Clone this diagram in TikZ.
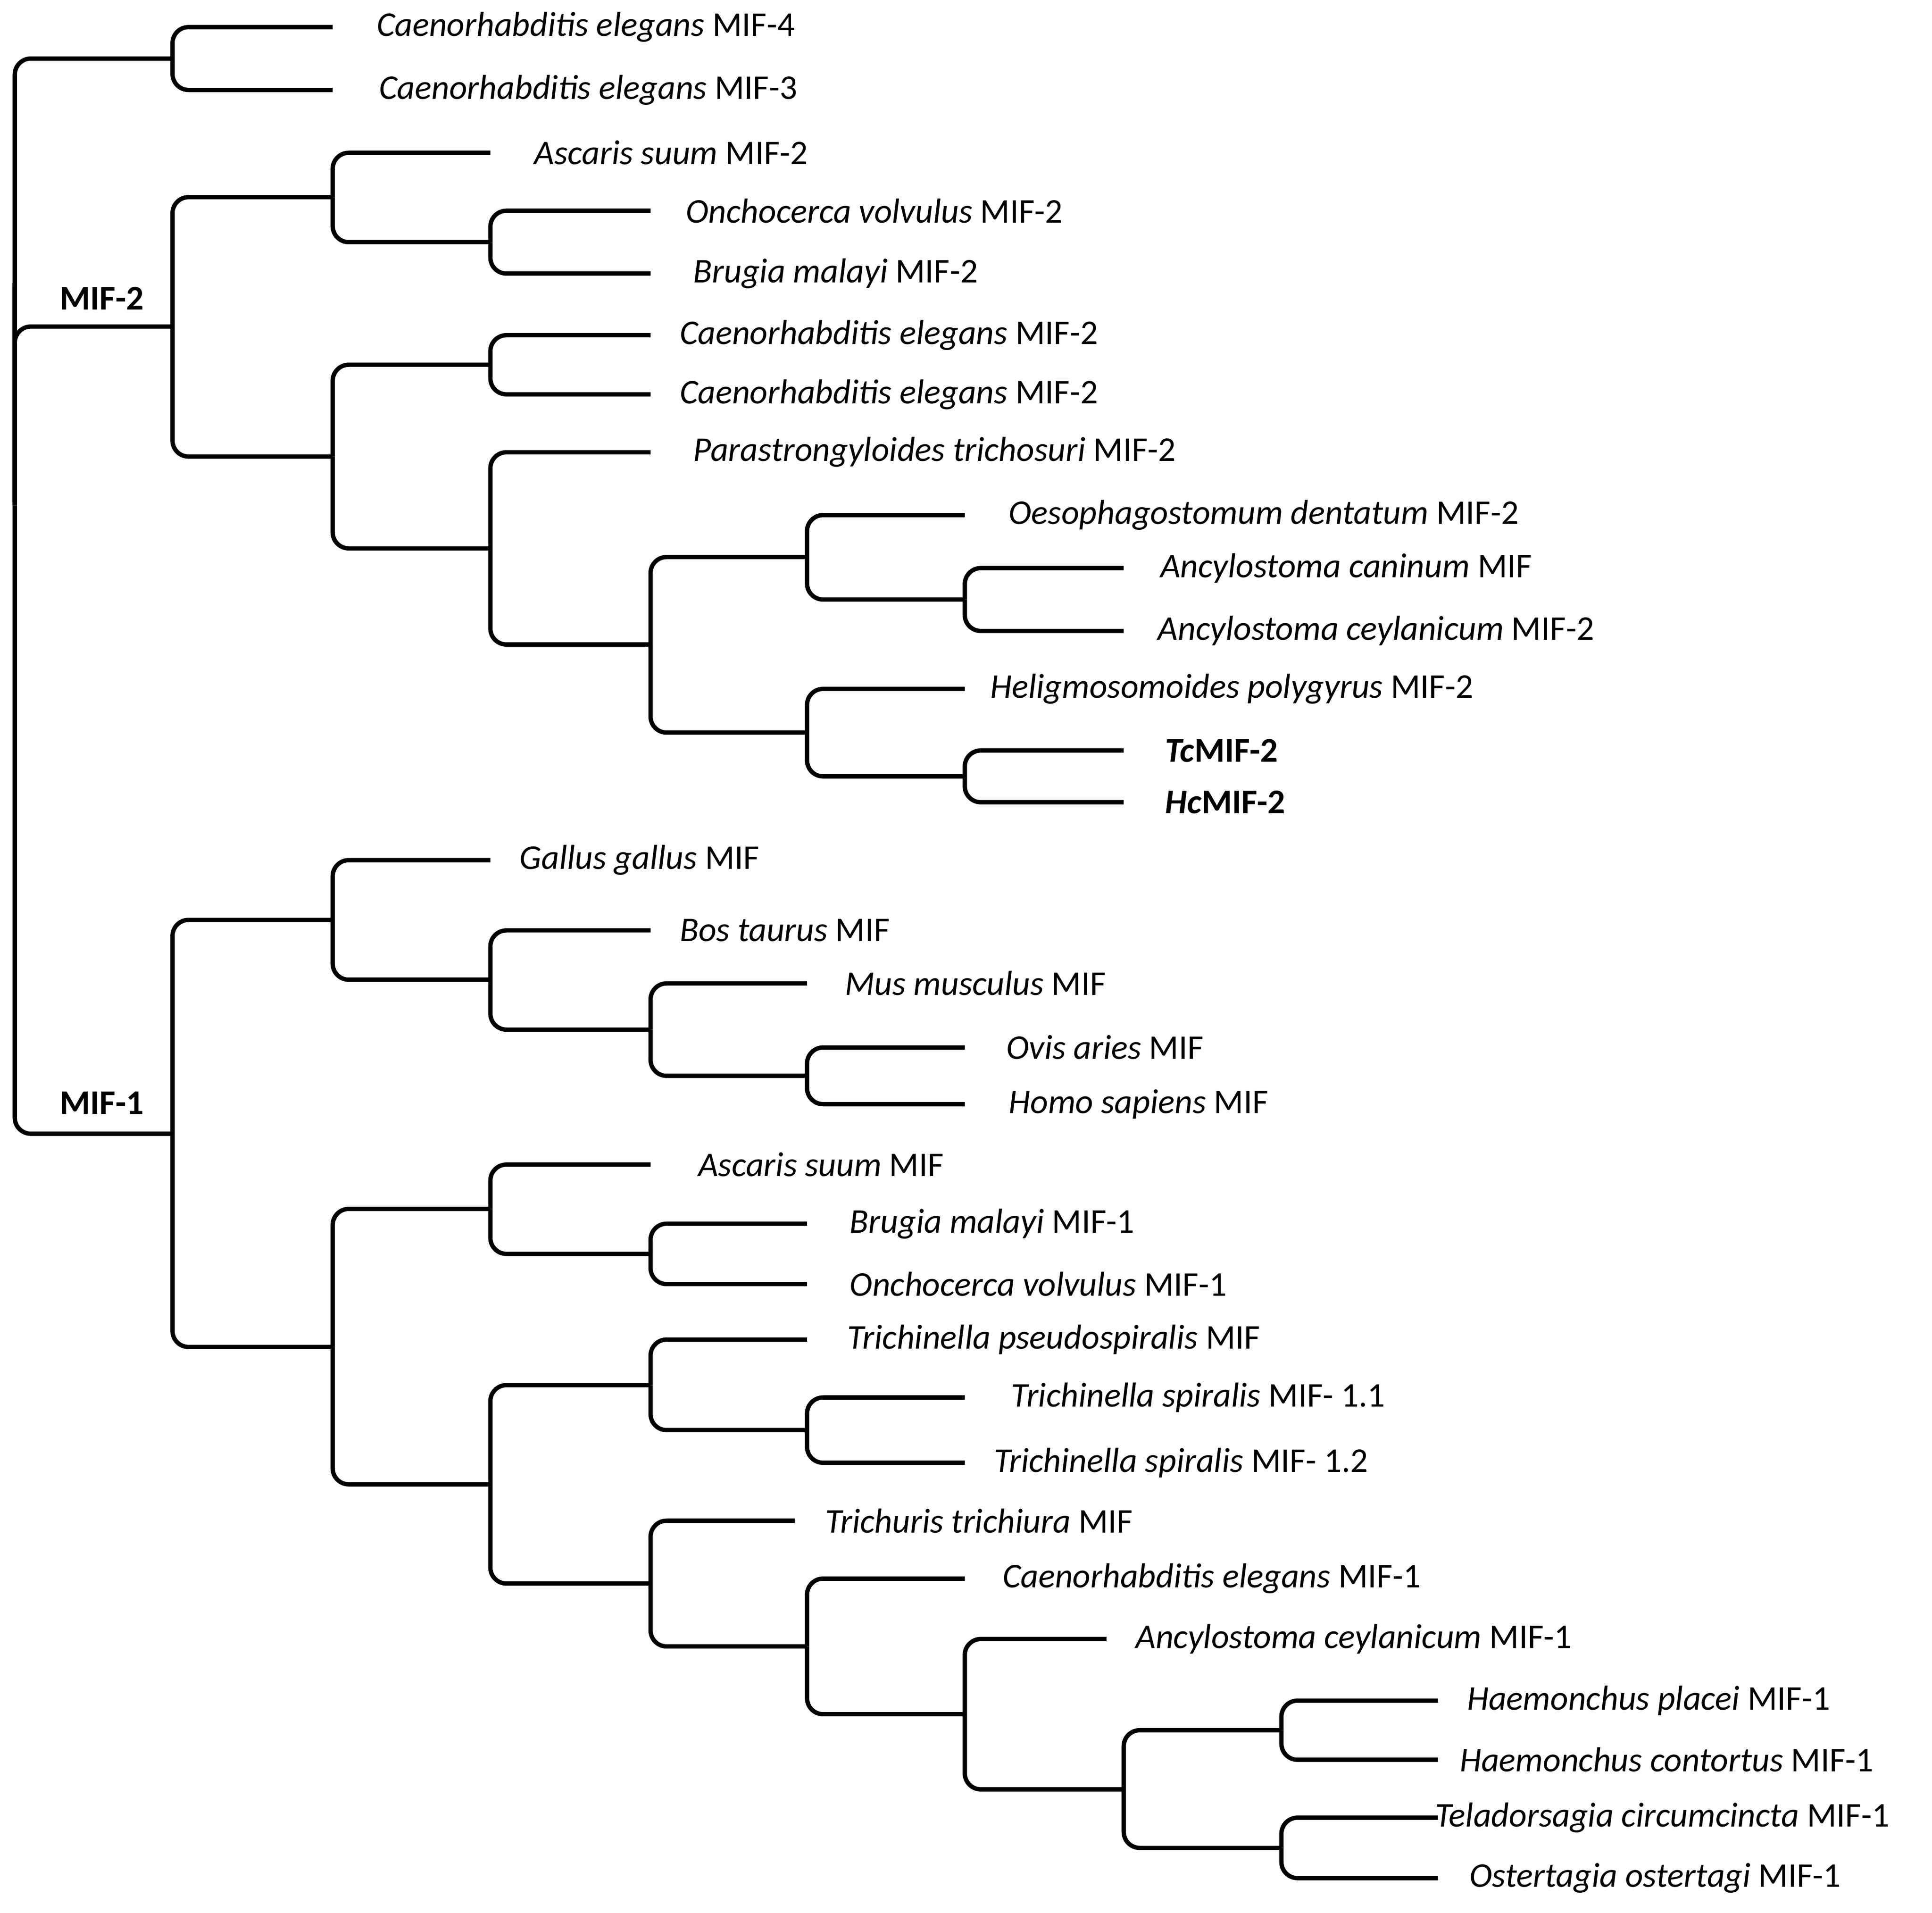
\documentclass[tikz,border=0pt]{standalone}
\usepackage{fontspec}
\setmainfont{Carlito}
\begin{document}
\begin{tikzpicture}[x=0.01cm,y=-0.01cm,
  br/.style={line width=1pt,rounded corners=0.13cm},
  lab/.style={anchor=west,inner sep=0pt,font=\fontsize{8}{9}\selectfont},
  grp/.style={anchor=west,inner sep=0pt,font=\fontsize{8}{9}\selectfont\bfseries}]
\useasboundingbox (0,0) rectangle (1568,1552);
\newcommand\leaf[5]{\coordinate (e#1) at (#3,#2); \node[lab] (l#1) at (#4,#2) {#5};}
\leaf{1}{22}{270}{305}{\textit{Caenorhabditis elegans} MIF-4}
\leaf{2}{73}{270}{307}{\textit{Caenorhabditis elegans} MIF-3}
\leaf{3}{124}{398}{433}{\textit{Ascaris suum} MIF-2}
\leaf{4}{171}{528}{556}{\textit{Onchocerca volvulus} MIF-2}
\leaf{5}{222}{528}{562}{\textit{Brugia malayi} MIF-2}
\leaf{6}{272}{528}{551}{\textit{Caenorhabditis elegans} MIF-2}
\leaf{7}{320}{528}{551}{\textit{Caenorhabditis elegans} MIF-2}
\leaf{8}{367}{528}{562}{\textit{Parastrongyloides trichosuri} MIF-2}
\leaf{9}{418}{783}{818}{\textit{Oesophagostomum dentatum} MIF-2}
\leaf{10}{461}{912}{941}{\textit{Ancylostoma caninum} MIF}
\leaf{11}{512}{912}{939}{\textit{Ancylostoma ceylanicum} MIF-2}
\leaf{12}{559}{783}{803}{\textit{Heligmosomoides polygyrus} MIF-2}
\leaf{13}{609}{912}{945}{\textbf{\textit{Tc}MIF-2}}
\leaf{14}{651}{912}{945}{\textbf{\textit{Hc}MIF-2}}
\leaf{15}{698}{398}{421}{\textit{Gallus gallus} MIF}
\leaf{16}{755}{528}{551}{\textit{Bos taurus} MIF}
\leaf{17}{798}{655}{685}{\textit{Mus musculus} MIF}
\leaf{18}{850}{783}{816}{\textit{Ovis aries} MIF}
\leaf{19}{896}{783}{818}{\textit{Homo sapiens} MIF}
\leaf{20}{945}{528}{566}{\textit{Ascaris suum} MIF}
\leaf{21}{993}{655}{689}{\textit{Brugia malayi} MIF-1}
\leaf{22}{1042}{655}{689}{\textit{Onchocerca volvulus} MIF-1}
\leaf{23}{1087}{655}{687}{\textit{Trichinella pseudospiralis} MIF}
\leaf{24}{1134}{783}{820}{\textit{Trichinella spiralis} MIF- 1.1}
\leaf{25}{1187}{783}{806}{\textit{Trichinella spiralis} MIF- 1.2}
\leaf{26}{1234}{645}{669}{\textit{Trichuris trichiura} MIF}
\leaf{27}{1281}{783}{813}{\textit{Caenorhabditis elegans} MIF-1}
\leaf{28}{1330}{898}{921}{\textit{Ancylostoma ceylanicum} MIF-1}
\leaf{29}{1380}{1167}{1190}{\textit{Haemonchus placei} MIF-1}
\leaf{30}{1428}{1167}{1184}{\textit{Haemonchus contortus} MIF-1}
\leaf{31}{1475}{1167}{1164}{\textit{Teladorsagia circumcincta} MIF-1}
\leaf{32}{1524}{1167}{1192}{\textit{Ostertagia ostertagi} MIF-1}
% internal nodes
\coordinate (root) at (12,230);
\coordinate (A) at (140,47.5);
\coordinate (M) at (12,410);
\coordinate (m2) at (140,265);
\coordinate (C) at (270,160);
\coordinate (E) at (398,196.5);
\coordinate (D) at (270,370.5);
\coordinate (F) at (398,296);
\coordinate (G) at (398,445);
\coordinate (H) at (528,523);
\coordinate (I) at (655,452);
\coordinate (K) at (783,486.5);
\coordinate (J) at (655,594.5);
\coordinate (L) at (783,630);
\coordinate (m1) at (140,920);
\coordinate (N) at (270,746.5);
\coordinate (P) at (398,795);
\coordinate (Q) at (528,835.5);
\coordinate (R) at (655,873);
\coordinate (O) at (270,1093);
\coordinate (S) at (398,981);
\coordinate (U) at (528,1017.5);
\coordinate (T) at (398,1204.5);
\coordinate (V) at (528,1124);
\coordinate (X) at (655,1160.5);
\coordinate (W) at (528,1285);
\coordinate (Y) at (655,1336);
\coordinate (Z) at (783,1391);
\coordinate (AA) at (912,1452);
\coordinate (BB) at (1040,1404);
\coordinate (CC) at (1040,1499.5);
\foreach \p/\c in {root/A,root/M,A/e1,A/e2,M/m2,M/m1,
  m2/C,m2/D,C/e3,C/E,E/e4,E/e5,D/F,D/G,F/e6,F/e7,G/e8,G/H,H/I,H/J,
  I/e9,I/K,K/e10,K/e11,J/e12,J/L,L/e13,L/e14,
  m1/N,m1/O,N/e15,N/P,P/e16,P/Q,Q/e17,Q/R,R/e18,R/e19,
  O/S,O/T,S/e20,S/U,U/e21,U/e22,T/V,T/W,V/e23,V/X,X/e24,X/e25,
  W/e26,W/Y,Y/e27,Y/Z,Z/e28,Z/AA,AA/BB,AA/CC,BB/e29,BB/e30,CC/e31,CC/e32}
  \draw[br] (\p) |- (\c);
\node[grp] (g2) at (48,242) {MIF-2};
\node[grp] (g1) at (48,895) {MIF-1};
\end{tikzpicture}
\end{document}
